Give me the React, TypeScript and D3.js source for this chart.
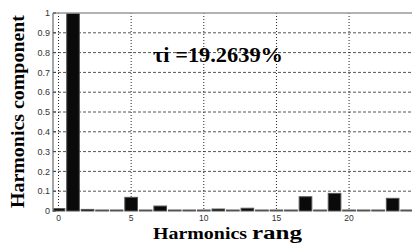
import React from "react";
import * as d3 from "d3";

const harmonics = d3.range(0, 25);
const values = [0.012, 1, 0.008, 0.004, 0.002, 0.069, 0.002, 0.025, 0.001, 0.001, 0.001, 0.01, 0.001, 0.014, 0.001, 0.001, 0.001, 0.072, 0.001, 0.089, 0.001, 0.001, 0.001, 0.064, 0.001];
const yTicks = [0, 0.1, 0.2, 0.3, 0.4, 0.5, 0.6, 0.7, 0.8, 0.9, 1];
const yTickLabels = ["0", "0.1", "0.2", "0.3", "0.4", "0.5", "0.6", "0.7", "0.8", "0.9", "1"];
const xTicks = [0, 5, 10, 15, 20];
const yTitle = "Harmonics component";
const xTitleA = "Harmonics";
const xTitleB = "rang";
const annotation = "\u03c4i =19.2639%";

export default function App() {
  const W = 412, H = 246;
  const left = 53, top = 13, bottom = 211, right = 412;
  const x = d3.scaleLinear().domain([0, 24]).range([58.5, 407.2]);
  const y = d3.scaleLinear().domain([0, 1]).range([bottom, top]);
  const bw = (x(1) - x(0)) * 0.87;
  const serif = "'Liberation Serif', 'Times New Roman', serif";
  const sans = "'Liberation Sans', Arial, sans-serif";
  return (
    <svg width={W} height={H} style={{ position: "absolute", left: 0, top: 0, background: "#fff" }}>
      <defs>
        <clipPath id="plot">
          <rect x={left} y={top} width={right - left} height={bottom - top + 2} />
        </clipPath>
      </defs>
      {yTicks.slice(1, -1).map((t) => (
        <line key={"h" + t} x1={left} x2={right} y1={y(t)} y2={y(t)} stroke="#555" strokeWidth={1} strokeDasharray="3,2" />
      ))}
      {xTicks.map((t) => (
        <line key={"v" + t} x1={x(t)} x2={x(t)} y1={top} y2={bottom} stroke="#222" strokeWidth={1} strokeDasharray="1,2" />
      ))}
      <g clipPath="url(#plot)">
        {harmonics.map((h, i) => {
          const v = values[i];
          const yt = y(v);
          const hh = Math.max(bottom - yt, 1);
          return (
            <rect key={h} x={x(h) - bw / 2} y={bottom - hh} width={bw} height={hh}
              fill="#0a0a0a" stroke="#555" strokeWidth={1} />
          );
        })}
      </g>
      <line x1={left} x2={left} y1={top} y2={bottom + 1} stroke="#888" strokeWidth={1.5} />
      <line x1={left} x2={right} y1={top} y2={top} stroke="#999" strokeWidth={1.5} />
      {yTicks.map((t, i) => (
        <g key={"yt" + t}>
          <line x1={left} x2={left + 3} y1={y(t)} y2={y(t)} stroke="#444" />
          <text x={left - 3} y={y(t)} dy="0.35em" textAnchor="end" fontFamily={sans} fontSize={9} fill="#333">{yTickLabels[i]}</text>
        </g>
      ))}
      {xTicks.map((t) => (
        <text key={"xt" + t} x={x(t)} y={221} textAnchor="middle" fontFamily={sans} fontSize={8.5} fill="#333">{t}</text>
      ))}
      <text transform={`translate(24,111.5) rotate(-90)`} textAnchor="middle" fontFamily={serif} fontWeight="bold" fontSize={19}
        textLength={193} lengthAdjust="spacingAndGlyphs" fill="#000">{yTitle}</text>
      <text x={153} y={238.5} fontFamily={serif} fontWeight="bold" fontSize={16} textLength={94} lengthAdjust="spacingAndGlyphs" fill="#000">{xTitleA}</text>
      <text x={252} y={238.5} fontFamily={serif} fontWeight="bold" fontSize={18} textLength={50} lengthAdjust="spacingAndGlyphs" fill="#000">{xTitleB}</text>
      <text x={153} y={62} fontFamily={serif} fontWeight="bold" fontSize={20} textLength={130} lengthAdjust="spacingAndGlyphs" fill="#000">{annotation}</text>
    </svg>
  );
}
